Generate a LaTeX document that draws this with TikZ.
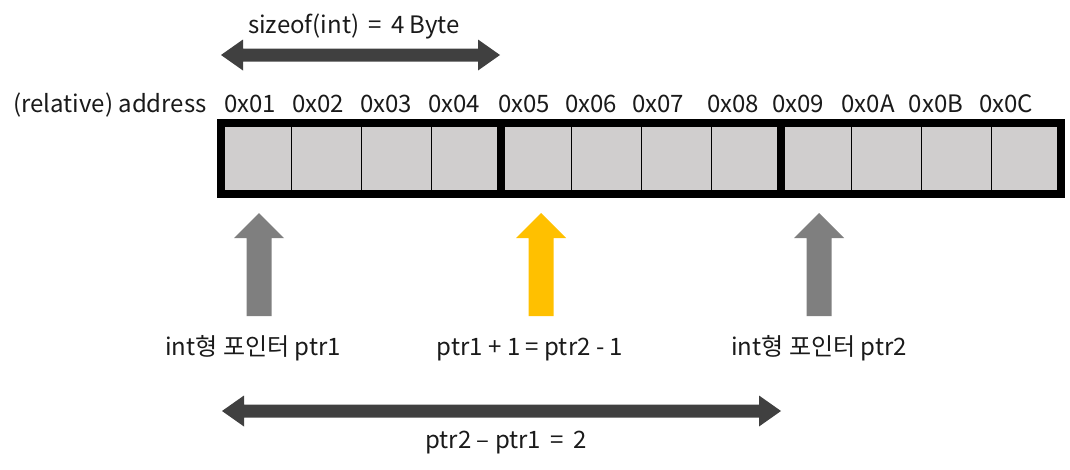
\documentclass[tikz,border=0pt]{standalone}
\usepackage{fontspec}
\setmainfont{Noto Sans CJK KR}
\definecolor{cellgray}{HTML}{D0CECE}
\definecolor{ptrgray}{HTML}{7F7F7F}
\definecolor{ptryellow}{HTML}{FFC000}
\definecolor{darkarr}{HTML}{404040}
\definecolor{txt}{HTML}{1A1A1A}
\newcommand{\blockup}[2]{%
  \fill[#1] (#2,213) -- ++(25,25) -- ++(-12.5,0) -- ++(0,78) -- ++(-25,0) -- ++(0,-78) -- ++(-12.5,0) -- cycle;}
\begin{document}
\begin{tikzpicture}[x=1pt,y=-1pt,
  cell/.style={draw=black,line width=1pt,fill=cellgray,minimum width=70pt,minimum height=71pt,outer sep=0pt,inner sep=0pt},
  heavy/.style={draw=black,line width=8pt},
  lbl/.style={anchor=base,inner sep=0pt,text=txt,font=\fontsize{24}{28}\selectfont}
]
\useasboundingbox (0,0) rectangle (1070,469);
% cells
\foreach \i in {1,...,12} {
  \node[cell] (c\i) at ({256+70*(\i-1)},158.5) {};
}
\draw[heavy] (c1.north west) rectangle (c12.south east);
\draw[heavy] (c4.north east) -- (c4.south east);
\draw[heavy] (c8.north east) -- (c8.south east);
% address labels
\node[lbl] (addr) at (110,112) {(relative) address};
\foreach \i/\x/\t in {1/250/0x01,2/318/0x02,3/386/0x03,4/454/0x04,5/524/0x05,6/591/0x06,7/658/0x07,8/733/0x08,9/798/0x09,10/868/0x0A,11/936/0x0B,12/1006/0x0C} {
  \node[lbl] (a\i) at (\x,112) {\t};
}
% sizeof arrow
\node[lbl] (size) at (354,33) {sizeof(int)\, =\, 4 Byte};
\fill[darkarr] (221,55) -- (243,39.5) -- (243,48.5) -- (478,48.5) -- (478,39.5) -- (500,55) -- (478,70.5) -- (478,61.5) -- (243,61.5) -- (243,70.5) -- cycle;
% pointer arrows
\blockup{ptrgray}{259}
\blockup{ptryellow}{541}
\blockup{ptrgray}{819}
\node[lbl] (p1) at (253,355) {int형 포인터 ptr1};
\node[lbl] (pm) at (530,355) {ptr1 + 1 = ptr2 - 1};
\node[lbl] (p2) at (819,355) {int형 포인터 ptr2};
% difference arrow
\fill[darkarr] (222,411) -- (244,395.5) -- (244,404.5) -- (759,404.5) -- (759,395.5) -- (781,411) -- (759,426.5) -- (759,417.5) -- (244,417.5) -- (244,426.5) -- cycle;
\node[lbl] (diff) at (506,448) {ptr2 – ptr1\, =\, 2};
\end{tikzpicture}
\end{document}
